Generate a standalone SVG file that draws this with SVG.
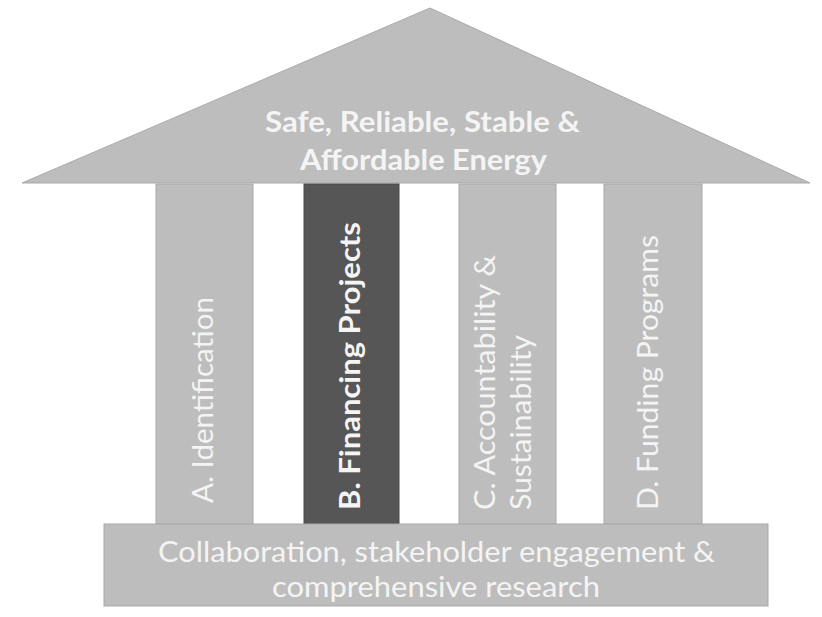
<svg xmlns="http://www.w3.org/2000/svg" width="822" height="617" viewBox="0 0 822 617">
<style>
.shape{fill:#bdbdbd;stroke:#a9a9a9;stroke-width:1}
.dark{fill:#565656;stroke:#4a4a4a;stroke-width:1}
.t{font-family:Lato,"Open Sans",sans-serif;fill:#f4f4f4;font-size:28px}
.b{font-weight:bold}
</style>
<rect width="822" height="617" fill="#ffffff"/>
<g id="roof">
<polygon class="shape" points="430,8 810,183 22,183"/>
<text class="t b" x="265" y="132" textLength="315" lengthAdjust="spacingAndGlyphs">Safe, Reliable, Stable &amp;</text>
<text class="t b" x="300" y="170" textLength="247" lengthAdjust="spacingAndGlyphs">Affordable Energy</text>
</g>
<g id="pillarA">
<rect class="shape" x="156" y="184" width="97" height="340"/>
<text class="t" transform="translate(213,503) rotate(-90)" textLength="206" lengthAdjust="spacingAndGlyphs">A. Identification</text>
</g>
<g id="pillarB">
<rect class="dark" x="304" y="184" width="95" height="340"/>
<text class="t b" transform="translate(360,510) rotate(-90)" textLength="288" lengthAdjust="spacingAndGlyphs">B. Financing Projects</text>
</g>
<g id="pillarC">
<rect class="shape" x="459" y="184" width="97" height="340"/>
<text class="t" transform="translate(495,510) rotate(-90)" textLength="255" lengthAdjust="spacingAndGlyphs">C. Accountability &amp;</text>
<text class="t" transform="translate(531,510) rotate(-90)" textLength="175" lengthAdjust="spacingAndGlyphs">Sustainability</text>
</g>
<g id="pillarD">
<rect class="shape" x="604" y="184" width="98" height="340"/>
<text class="t" transform="translate(658,510) rotate(-90)" textLength="275" lengthAdjust="spacingAndGlyphs">D. Funding Programs</text>
</g>
<g id="base">
<rect class="shape" x="104" y="524" width="664" height="82"/>
<text class="t" x="158" y="562" textLength="557" lengthAdjust="spacingAndGlyphs">Collaboration, stakeholder engagement &amp;</text>
<text class="t" x="272" y="597" textLength="328" lengthAdjust="spacingAndGlyphs">comprehensive research</text>
</g>
<g id="connectors"/>
</svg>
